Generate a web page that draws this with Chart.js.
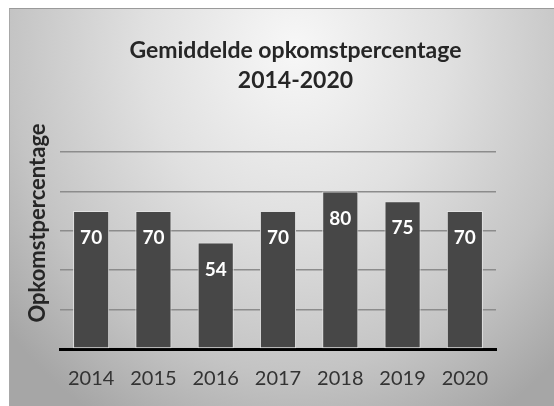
<!DOCTYPE html>
<html>
<head>
<meta charset="utf-8">
<script src="https://cdn.jsdelivr.net/npm/chart.js@4"></script>
<style>
  html, body { margin: 0; padding: 0; background: #ffffff; width: 554px; height: 406px; overflow: hidden; }
  #panel {
    position: absolute; left: 9px; top: 8px; width: 545px; height: 398px;
    border-top: 1px solid #9a9a9a; border-left: 1px solid #a8a8a8; box-sizing: border-box;
    background: radial-gradient(ellipse 380px 430px at 285px 40px, #f7f7f7 0%, #e0e0e0 40%, #c4c4c4 75%, #a6a6a6 100%);
  }
  #wrap { position: absolute; left: 0; top: 0; width: 554px; height: 406px; }
</style>
</head>
<body>
<div id="panel"></div>
<div id="wrap"><canvas id="c" width="554" height="406"></canvas></div>
<script>
const categories = ['2014', '2015', '2016', '2017', '2018', '2019', '2020'];
const values = [70, 70, 54, 70, 80, 75, 70];
const titleLines = ['Gemiddelde opkomstpercentage', '2014-2020'];
const yTitle = 'Opkomstpercentage';
const yTicks = [0, 20, 40, 60, 80, 100];

const FONT = 'Lato, "Open Sans", sans-serif';

const textPlugin = {
  id: 'textPlugin',
  afterDatasetsDraw(chart) {
    const ctx = chart.ctx;
    const meta = chart.getDatasetMeta(0);
    ctx.save();
    ctx.fillStyle = '#ffffff';
    ctx.font = 'bold 19px ' + FONT;
    ctx.textAlign = 'center';
    ctx.textBaseline = 'middle';
    meta.data.forEach((bar, i) => {
      ctx.fillText(String(values[i]), bar.x, bar.y + 27);
    });
    ctx.restore();
  },
  afterDraw(chart) {
    const ctx = chart.ctx;
    const area = chart.chartArea;
    ctx.save();
    ctx.fillStyle = '#262626';
    ctx.font = 'bold 23px ' + FONT;
    ctx.textAlign = 'center';
    ctx.textBaseline = 'middle';
    const cx = area.left + (area.right - area.left) * 0.54;
    ctx.fillText(titleLines[0], cx, 51);
    ctx.fillText(titleLines[1], cx, 81);
    ctx.translate(38, 223);
    ctx.rotate(-Math.PI / 2);
    ctx.font = 'bold 22px ' + FONT;
    ctx.fillText(yTitle, 0, 0);
    ctx.restore();
  }
};

new Chart(document.getElementById('c'), {
  type: 'bar',
  data: {
    labels: categories,
    datasets: [{
      data: values,
      backgroundColor: '#474747',
      borderColor: '#e2e2e2',
      borderWidth: 1,
      borderSkipped: false,
      categoryPercentage: 1,
      barPercentage: 0.58
    }]
  },
  options: {
    responsive: false,
    animation: false,
    layout: { padding: { left: 0, right: 58, top: 152, bottom: 0 } },
    plugins: { legend: { display: false }, title: { display: false }, tooltip: { enabled: false } },
    scales: {
      x: {
        z: 1,
        grid: { display: false, drawTicks: false },
        border: { display: true, color: '#000000', width: 3 },
        ticks: { color: '#333333', font: { family: FONT, size: 20 }, padding: 18 },
        afterFit(scale) { scale.height = 57; }
      },
      y: {
        min: 0, max: 100,
        afterBuildTicks(scale) { scale.ticks = yTicks.map(v => ({ value: v })); },
        grid: { color: '#8c8c8c', lineWidth: 1.5, drawTicks: false },
        border: { display: false },
        ticks: { display: false },
        afterFit(scale) { scale.width = 60; }
      }
    }
  },
  plugins: [textPlugin]
});
</script>
</body>
</html>
